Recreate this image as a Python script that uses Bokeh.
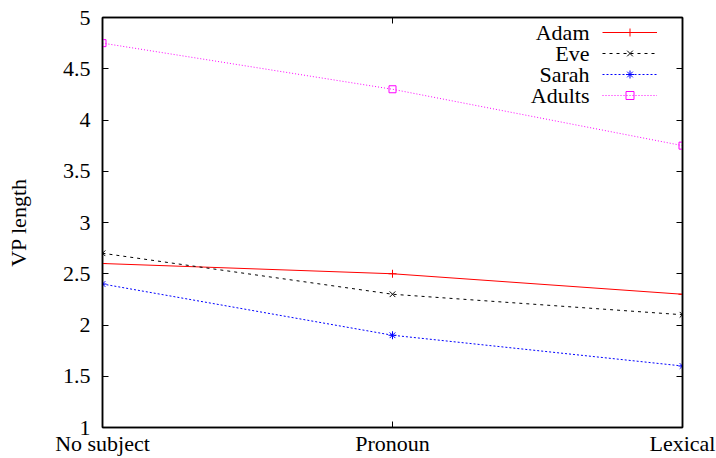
from bokeh.plotting import figure
from bokeh.models import Range1d, FixedTicker, LinearAxis, Legend, LegendItem, Label
from bokeh.embed import file_html
from bokeh.resources import INLINE

categories = ["No subject", "Pronoun", "Lexical"]
adam = [2.6, 2.5, 2.3]
eve = [2.7, 2.3, 2.1]
sarah = [2.4, 1.9, 1.6]
adults = [4.75, 4.3, 3.75]
series_names = ["Adam", "Eve", "Sarah", "Adults"]
y_ticks = [1, 1.5, 2, 2.5, 3, 3.5, 4, 4.5, 5]

xs = list(range(len(categories)))
FONT = "Liberation Serif"
FS = "22px"

FRAME_W, FRAME_H = 580, 412
p = figure(width=716, height=458, output_backend="svg", toolbar_location=None,
           x_range=Range1d(0, 2), y_range=Range1d(1, 5),
           min_border_left=102, min_border_right=34, min_border_top=17, min_border_bottom=29)
p.grid.visible = False
p.outline_line_color = "black"
p.outline_line_width = 1.5

def style_axis(ax, labels=True):
    ax.axis_line_color = "black"
    ax.axis_line_width = 1.5
    ax.major_tick_in = 6
    ax.major_tick_out = 0
    ax.minor_tick_in = 0
    ax.minor_tick_out = 0
    ax.major_tick_line_color = "black"
    ax.major_label_text_font = FONT
    ax.major_label_text_font_size = FS
    ax.major_label_text_color = "black"
    if not labels:
        ax.major_label_text_font_size = "0px"
        ax.major_label_text_alpha = 0
        ax.major_label_standoff = 0

p.xaxis.ticker = FixedTicker(ticks=xs)
p.xaxis.major_label_overrides = {i: c for i, c in enumerate(categories)}
p.xaxis.major_label_standoff = 3
p.yaxis.ticker = FixedTicker(ticks=y_ticks)
p.yaxis.major_label_overrides = {t: (str(int(t)) if t == int(t) else str(t)) for t in y_ticks}
p.yaxis.major_label_standoff = 12
p.yaxis.axis_label = "VP length"
p.yaxis.axis_label_text_font = FONT
p.yaxis.axis_label_text_font_size = FS
p.yaxis.axis_label_text_font_style = "normal"
p.yaxis.axis_label_text_color = "black"
p.yaxis.axis_label_standoff = 29
style_axis(p.xaxis[0])
style_axis(p.yaxis[0])

right = LinearAxis(ticker=FixedTicker(ticks=y_ticks))
style_axis(right, labels=False)
p.add_layout(right, "right")
top = LinearAxis(ticker=FixedTicker(ticks=xs))
style_axis(top, labels=False)
p.add_layout(top, "above")

r1l = p.line(xs, adam, line_color="red", line_width=1)
r1m = p.scatter(xs, adam, marker="cross", size=8, line_color="red", line_width=1)
r2l = p.line(xs, eve, line_color="black", line_width=1, line_dash="3 4")
r2m = p.scatter(xs, eve, marker="x", size=8, line_color="black", line_width=1)
r3l = p.line(xs, sarah, line_color="blue", line_width=1, line_dash="2 2")
r3m = p.scatter(xs, sarah, marker="asterisk", size=8, line_color="blue", line_width=1)
r4l = p.line(xs, adults, line_color="magenta", line_width=1, line_dash="1 2")
r4m = p.scatter(xs, adults, marker="square", size=7, line_color="magenta", fill_color=None, line_width=1)

# legend layout (screen px relative to the plot frame, y from frame bottom)
ROW = 21
LEG_TOP = 17          # first row centre below the frame top
SAMPLE_LEFT = 500     # sample line start
NAME_RIGHT = 487      # right edge of the names
n = len(series_names)
box_h = n * 20 + (n - 1) * 1

samples = Legend(items=[
    LegendItem(label=" ", renderers=[r1l, r1m]),
    LegendItem(label=" ", renderers=[r2l, r2m]),
    LegendItem(label=" ", renderers=[r3l, r3m]),
    LegendItem(label=" ", renderers=[r4l, r4m]),
], location=(SAMPLE_LEFT, FRAME_H - (LEG_TOP - 10) - box_h))
samples.background_fill_alpha = 0
samples.border_line_alpha = 0
samples.label_text_font_size = "1px"
samples.glyph_width = 55
samples.glyph_height = 20
samples.label_height = 20
samples.label_width = 0
samples.label_standoff = 0
samples.spacing = 1
samples.padding = 0
samples.margin = 0
p.add_layout(samples)

for i, name in enumerate(series_names):
    p.add_layout(Label(x=NAME_RIGHT, y=FRAME_H - LEG_TOP - i * ROW, x_units="screen", y_units="screen",
                       text=name, text_align="right", text_baseline="middle",
                       text_font=FONT, text_font_size=FS, text_color="black"))

open("out.html", "w").write(file_html(p, INLINE))
